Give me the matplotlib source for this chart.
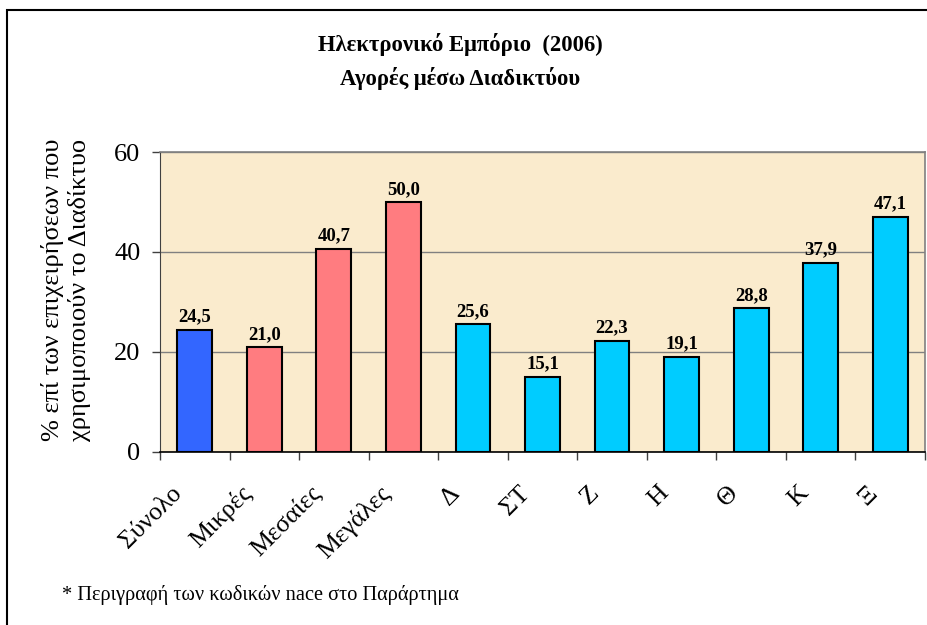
import matplotlib
matplotlib.use("Agg")
import matplotlib.pyplot as plt
from matplotlib.patches import Rectangle
from matplotlib.transforms import ScaledTranslation

categories = ["Σύνολο", "Μικρές", "Μεσαίες", "Μεγάλες", "Δ", "ΣΤ", "Ζ", "Η", "Θ", "Κ", "Ξ"]
values = [24.5, 21.0, 40.7, 50.0, 25.6, 15.1, 22.3, 19.1, 28.8, 37.9, 47.1]
colors = ["#3366FF"] + ["#FF7C80"] * 3 + ["#00CCFF"] * 7
yticks = [0, 20, 40, 60]

plt.rcParams['font.family'] = ['Liberation Serif', 'DejaVu Serif']

W, H = 927, 625
fig = plt.figure(figsize=(W / 100, H / 100), dpi=100)

# plot area in pixels
left, right, top, bottom = 160, 925, 152, 452
ax = fig.add_axes([left / W, (H - bottom) / H, (right - left) / W, (bottom - top) / H])
ax.set_facecolor("#FAEBCD")

x = list(range(len(categories)))
bars = ax.bar(x, values, width=0.5, color=colors, edgecolor="black", linewidth=1.5, zorder=3)

for xi, v in zip(x, values):
    ax.annotate(("%.1f" % v).replace(".", ","), (xi, v), xytext=(0, 3), textcoords="offset points",
                ha="center", va="bottom", fontsize=13.5, fontweight="bold", zorder=4)

ax.set_xlim(-0.5, len(categories) - 0.5)
ax.set_ylim(0, 60)
ax.set_yticks(yticks)
ax.set_yticklabels([str(t) for t in yticks], fontsize=19)
ax.yaxis.grid(True, color="#808080", linewidth=1, zorder=0)
ax.tick_params(axis="y", direction="out", length=6, width=1, color="#404040", pad=8)

# ticks between categories, labels drawn separately
ax.set_xticks([i - 0.5 for i in range(len(categories) + 1)])
ax.set_xticklabels([])
ax.tick_params(axis="x", direction="out", length=6, width=1, color="#404040")

off = ScaledTranslation(-16 / 100, -38 / 100, fig.dpi_scale_trans)
for xi, lab in zip(x, categories):
    ax.text(xi, 0, lab, transform=ax.get_xaxis_transform() + off, rotation=45,
            rotation_mode="anchor", ha="right", va="center", fontsize=18.5)

for s in ["top", "right"]:
    ax.spines[s].set_color("#808080")
    ax.spines[s].set_linewidth(1.2)
ax.spines["left"].set_color("#404040")
ax.spines["bottom"].set_color("black")
ax.spines["bottom"].set_linewidth(1.2)

fig.text(66 / W, 1 - 290 / H, "% επί των επιχειρήσεων που\nχρησιμοποιούν το Διαδίκτυο", rotation=90,
         ha="center", va="center", fontsize=19, linespacing=1.2)

fig.text(460 / W, 1 - 45 / H, "Ηλεκτρονικό Εμπόριο  (2006)", ha="center", va="center",
         fontsize=16.3, fontweight="bold")
fig.text(460 / W, 1 - 78 / H, "Αγορές μέσω Διαδικτύου", ha="center", va="center",
         fontsize=16.3, fontweight="bold")
fig.text(62 / W, 1 - 595 / H, "* Περιγραφή των κωδικών nace στο Παράρτημα", ha="left", va="center",
         fontsize=14.7)

fig.patches.append(Rectangle((7 / W, -0.1), 1.2, (H - 10) / H + 0.1, transform=fig.transFigure,
                             fill=False, edgecolor="black", linewidth=1.5))

fig.savefig("out.png", dpi=100)
